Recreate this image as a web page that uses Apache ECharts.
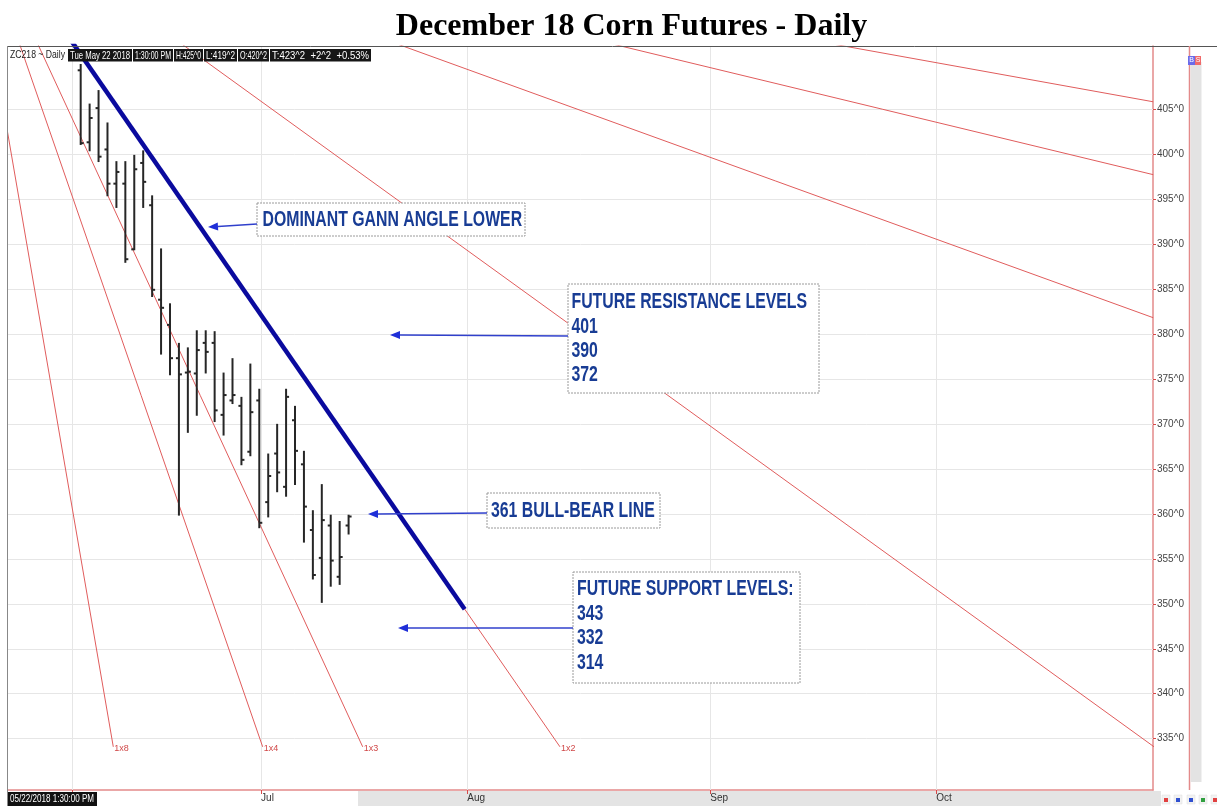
<!DOCTYPE html>
<html><head><meta charset="utf-8">
<script src="https://cdn.jsdelivr.net/npm/echarts@6/dist/echarts.min.js"></script>
<style>html,body{margin:0;padding:0;background:#fff}#c{width:1217px;height:806px}</style>
</head><body><div id="c"></div>
<script>
// ---- data ----
const barDates = ['2018-06-04','2018-06-05','2018-06-06','2018-06-07','2018-06-08',
  '2018-06-11','2018-06-12','2018-06-13','2018-06-14','2018-06-15',
  '2018-06-18','2018-06-19','2018-06-20','2018-06-21','2018-06-22',
  '2018-06-25','2018-06-26','2018-06-27','2018-06-28','2018-06-29',
  '2018-07-02','2018-07-03','2018-07-05','2018-07-06',
  '2018-07-09','2018-07-10','2018-07-11','2018-07-12','2018-07-13',
  '2018-07-16','2018-07-17'];
const opens  = [409.3,401.3,405.1,400.5,396.7,396.7,389.4,399.0,394.3,383.8,381.0,377.3,375.7,375.6,379.0,379.0,371.0,372.6,372.0,366.9,372.6,361.3,366.7,363.0,370.4,365.5,358.2,355.1,358.7,353.0,358.7];
const highs  = [410.0,405.6,407.1,403.5,399.2,399.2,399.9,400.4,395.4,389.5,383.4,379.0,378.5,380.4,380.4,380.3,375.7,377.3,373.0,376.7,373.9,366.7,370.0,373.9,372.0,367.0,360.4,363.3,359.9,359.2,359.9];
const lows   = [401.0,400.3,399.1,395.3,394.0,387.9,389.3,394.0,384.1,377.7,375.4,359.8,369.0,370.9,375.6,370.2,368.7,372.2,365.4,366.4,358.4,359.6,362.4,361.9,363.2,356.8,352.7,350.1,351.9,352.1,357.7];
const closes = [401.2,404.0,399.7,396.7,398.0,388.3,398.3,396.9,384.9,382.9,377.3,375.5,375.8,378.2,378.0,371.5,373.2,373.2,366.0,371.3,359.0,364.2,364.6,373.0,367.0,360.8,353.2,359.3,354.8,355.2,359.7];
const priceTicks = [335,340,345,350,355,360,365,370,375,380,385,390,395,400,405];
const monthLabels = ['Jun','Jul','Aug','Sep','Oct'];
const monthTickAt = [-1, 20.2, 43.3, 70.5, 95.8];   // position in bar slots
const gannNames = ['1x8','1x4','1x3','1x2','1x1','2x1','3x1','4x1'];
const gannOrigin = [-12.9, 429.6];
const gannEnds = [[3.65,334.1],[20.38,334.1],[31.58,334.1],[53.67,334.1],[120.2,334.1],[120.1,381.8],[120.1,397.7],[120.1,405.8]];
const gannLabelShown = [true,true,true,true,false,false,false,false];
const dominantLine = [[-1,412.5],[43,349.4]];
const headerItems = ['Tue May 22 2018','1:30:00 PM','H:425^0','L:419^2','O:420^2','T:423^2  +2^2  +0.53%'];

// ---- chart ----
const FONT_S = "'Liberation Sans', Arial, sans-serif";
const AXIS_RED = '#e38a8a';
const chart = echarts.init(document.getElementById('c'), null, {renderer:'canvas'});
const mctx = document.createElement('canvas').getContext('2d');
function fitText(x, y, w, text, font, fill, z){
  mctx.font = font; const tw = mctx.measureText(text).width || 1;
  return {type:'text', x, y, scaleX: w/tw, style:{text, font, fill, textVerticalAlign:'middle'}, z:z||111};
}

const ohlcData = barDates.map((d,i)=>[i, opens[i], highs[i], lows[i], closes[i]]);

const gannSeries = gannNames.map((n,i)=>({
  type:'line', name:n, data:[gannOrigin, gannEnds[i]], symbol:'none', silent:true, clip:true, z:2,
  lineStyle:{color:'#e05c5c', width:1},
  endLabel:{show:gannLabelShown[i], formatter:n, color:'#d04848', fontSize:9, fontFamily:FONT_S, distance:1, offset:[0,2]}
}));

function box(x,y,w,h){ return {type:'rect', shape:{x,y,width:w,height:h}, style:{fill:'#fff', stroke:'#9a9a9a', lineWidth:1, lineDash:[2,1]}, z:100}; }
function annoText(x,y,text,lh){ return {type:'text', x, y, scaleX:0.72, style:{text, font:'bold 22px "Liberation Sans", Arial, sans-serif', fill:'#183c94', textVerticalAlign:'middle', lineHeight:lh||22}, z:101}; }
function arrow(x1,y1,x2,y2){
  const ang=Math.atan2(y2-y1,x2-x1), L=10, W=4;
  const bx=x2-L*Math.cos(ang), by=y2-L*Math.sin(ang);
  const px=-Math.sin(ang)*W, py=Math.cos(ang)*W;
  return [{type:'line', shape:{x1,y1,x2:bx,y2:by}, style:{stroke:'#3040cc', lineWidth:1.5}, z:101},
          {type:'polygon', shape:{points:[[x2,y2],[bx+px,by+py],[bx-px,by-py]]}, style:{fill:'#1f2fd8'}, z:101}];
}

const graphics = [
  {type:'text', x:631.5, y:26.5, style:{text:'December 18 Corn Futures - Daily', font:'bold 32px "Liberation Serif","Times New Roman",serif', fill:'#000', textAlign:'center', textVerticalAlign:'middle'}, z:100},
  {type:'line', shape:{x1:8, y1:46.5, x2:1217, y2:46.5}, style:{stroke:'#555', lineWidth:1}, z:90},
  {type:'line', shape:{x1:7.5, y1:46, x2:7.5, y2:806}, style:{stroke:'#888', lineWidth:1}, z:90},
  {type:'rect', shape:{x:358, y:791, width:803, height:15}, style:{fill:'#e4e4e4'}, z:-1},
  {type:'line', shape:{x1:1189.5, y1:46, x2:1189.5, y2:790}, style:{stroke:AXIS_RED, lineWidth:1.5}, z:90},
  {type:'rect', shape:{x:1190.5, y:62, width:11, height:720}, style:{fill:'#e3e3e3'}, z:90},
  {type:'rect', shape:{x:1188, y:56, width:7, height:9}, style:{fill:'#6b6bea'}, z:91},
  {type:'rect', shape:{x:1195, y:56, width:6, height:9}, style:{fill:'#f06a6a'}, z:91},
  {type:'text', x:1191.5, y:60.5, style:{text:'B', font:'7px '+FONT_S, fill:'#fff', textAlign:'center', textVerticalAlign:'middle'}, z:92},
  {type:'text', x:1198, y:60.5, style:{text:'S', font:'7px '+FONT_S, fill:'#fff', textAlign:'center', textVerticalAlign:'middle'}, z:92},
  fitText(10, 55, 55, 'ZC218 ~ Daily', '11px '+FONT_S, '#222'),
  {type:'rect', shape:{x:8, y:792, width:89, height:14}, style:{fill:'#111'}, z:110},
  fitText(10, 799.5, 84, '05/22/2018 1:30:00 PM', '10px '+FONT_S, '#fff'),
];
const hdrBoxes = [[68,132],[133,173],[174,203],[204,237],[238,269],[270,371]];
headerItems.forEach((t,i)=>{
  const [a,b] = hdrBoxes[i];
  graphics.push({type:'rect', shape:{x:a, y:49, width:b-a, height:12.5}, style:{fill:'#161616'}, z:110});
  graphics.push(fitText(a+2, 55.5, b-a-4, t, '11px '+FONT_S, '#fff'));
});
[[1163,'#e04040'],[1175,'#3050d0'],[1188,'#3050d0'],[1200,'#30a040'],[1212,'#e04040']].forEach(([x,c])=>{
  graphics.push({type:'rect', shape:{x:x-1, y:795, width:8, height:9}, style:{fill:'#f2f2f2', stroke:'#ddd', lineWidth:0.5}, z:95});
  graphics.push({type:'rect', shape:{x:x+1, y:798, width:4, height:4}, style:{fill:c}, z:96});
});
// annotation boxes
graphics.push(box(257,203,268,33), annoText(262.5,219.5,'DOMINANT GANN ANGLE LOWER'));
graphics.push(box(568,284,251,109), annoText(571.5,338.7,'FUTURE RESISTANCE LEVELS\n401\n390\n372',24.2));
graphics.push(box(487,493,173,35), annoText(491,510.5,'361 BULL-BEAR LINE'));
graphics.push(box(573,572,227,111), annoText(577,626,'FUTURE SUPPORT LEVELS:\n343\n332\n314',24.7));
graphics.push(...arrow(257,224,208,227), ...arrow(568,336,390,335), ...arrow(487,513,368,514), ...arrow(573,628,398,628));

const option = {
  animation:false,
  backgroundColor:'#fff',
  grid:{left:8, right:64, top:46, bottom:16, containLabel:false},
  xAxis:{type:'value', min:-8.14, max:120.08,
    axisLine:{show:true, onZero:false, lineStyle:{color:AXIS_RED, width:1.5}},
    axisTick:{show:true, customValues:monthTickAt, length:4, lineStyle:{color:'#d84848'}},
    axisLabel:{customValues:monthTickAt, align:'left', margin:3, fontSize:10, color:'#333', fontFamily:FONT_S,
      formatter:v=>{const k=monthTickAt.findIndex(m=>Math.abs(m-v)<1e-6); return k>=0?monthLabels[k]:'';}},
    splitLine:{show:false}},
  yAxis:{type:'value', position:'right', min:329.3, max:412, scale:true,
    axisLine:{show:true, onZero:false, lineStyle:{color:AXIS_RED, width:1.5}},
    axisTick:{show:true, customValues:priceTicks, length:3, lineStyle:{color:'#d84848'}},
    axisLabel:{customValues:priceTicks, formatter:v=>v+'^0', margin:4, fontSize:10, color:'#444', fontFamily:FONT_S, padding:[0,0,8,0]},
    splitLine:{show:false}},
  series:[
    {type:'custom', name:'ZC', data:ohlcData, clip:true, z:3, encode:{x:0, y:[1,2,3,4]},
      renderItem:(params, api)=>{
        const x=api.value(0);
        const t=api.coord([x,api.value(2)]), b=api.coord([x,api.value(3)]);
        const o=api.coord([x,api.value(1)]), c=api.coord([x,api.value(4)]);
        const st={stroke:'#262626', lineWidth:2};
        return {type:'group', children:[
          {type:'line', shape:{x1:t[0],y1:t[1],x2:b[0],y2:b[1]}, style:st},
          {type:'line', shape:{x1:o[0]-3,y1:o[1],x2:o[0],y2:o[1]}, style:st},
          {type:'line', shape:{x1:c[0],y1:c[1],x2:c[0]+3,y2:c[1]}, style:st}
        ]};
      },
      markLine:{silent:true, symbol:['none','none'], z:1, label:{show:false}, animation:false,
        lineStyle:{color:'#e6e6e6', type:'solid', width:1},
        data:[...priceTicks.map(v=>({yAxis:v})), ...monthTickAt.map(v=>({xAxis:v}))]}
    },
    ...gannSeries,
    {type:'line', name:'dominant', data:dominantLine, symbol:'none', silent:true, clip:true, z:4,
      lineStyle:{color:'#0a0a9e', width:4.5}}
  ],
  graphic:graphics
};
chart.setOption(option);
</script></body></html>
